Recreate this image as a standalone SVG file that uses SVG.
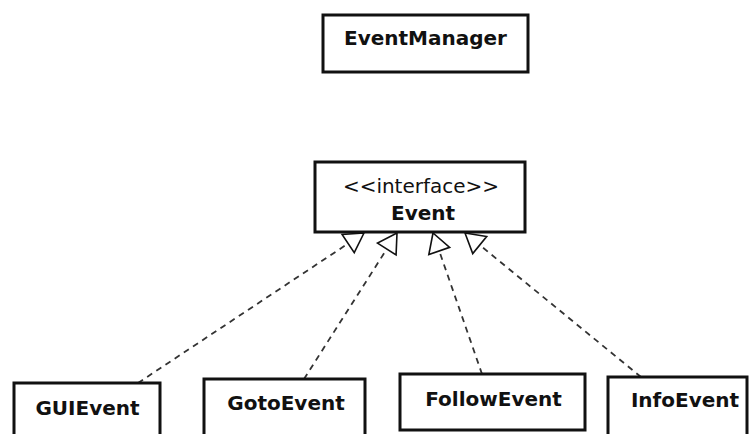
<svg xmlns="http://www.w3.org/2000/svg" width="750" height="434" viewBox="0 0 750 434">
  <style>
    .box { fill: #ffffff; stroke: #111111; stroke-width: 3; }
    .name { font-family: "DejaVu Sans", Verdana, sans-serif; font-size: 20px; font-weight: bold; fill: #111111; text-anchor: middle; }
    .stereo { font-family: "DejaVu Sans", Verdana, sans-serif; font-size: 20px; fill: #111111; text-anchor: middle; }
    .realize { fill: none; stroke: #333333; stroke-width: 1.8; stroke-dasharray: 6 5; marker-end: url(#hollow); }
  </style>
  <defs>
    <!-- hollow triangle for interface realization -->
    <marker id="hollow" markerUnits="userSpaceOnUse" viewBox="-21 -13 23 26" refX="0" refY="0" markerWidth="23" markerHeight="26" orient="auto">
      <path d="M0,0 L-19,-11 L-19,11 Z" fill="#ffffff" stroke="#111111" stroke-width="1.6" stroke-dasharray="none" stroke-linejoin="miter"/>
    </marker>
  </defs>
  <rect width="750" height="434" fill="#ffffff"/>

  <g id="connectors">
    <path class="realize" d="M138,383 L364,233"/>
    <path class="realize" d="M304,379 L397,233"/>
    <path class="realize" d="M482,374 L433,233"/>
    <path class="realize" d="M641,377 L465,233"/>
  </g>

  <g id="EventManager">
    <rect class="box" x="323" y="15" width="205" height="57"/>
    <text class="name" x="425.5" y="45">EventManager</text>
  </g>

  <g id="Event">
    <rect class="box" x="315" y="162" width="210" height="70"/>
    <text class="stereo" x="421" y="193">&lt;&lt;interface&gt;&gt;</text>
    <text class="name" x="423" y="220">Event</text>
  </g>

  <g id="GUIEvent">
    <rect class="box" x="14" y="383" width="146" height="60"/>
    <text class="name" x="87.5" y="415">GUIEvent</text>
  </g>

  <g id="GotoEvent">
    <rect class="box" x="204" y="379" width="161" height="64"/>
    <text class="name" x="286" y="410">GotoEvent</text>
  </g>

  <g id="FollowEvent">
    <rect class="box" x="400" y="374" width="185" height="56"/>
    <text class="name" x="493.5" y="406">FollowEvent</text>
  </g>

  <g id="InfoEvent">
    <rect class="box" x="608" y="377" width="139" height="66"/>
    <text class="name" x="685" y="407">InfoEvent</text>
  </g>
</svg>
